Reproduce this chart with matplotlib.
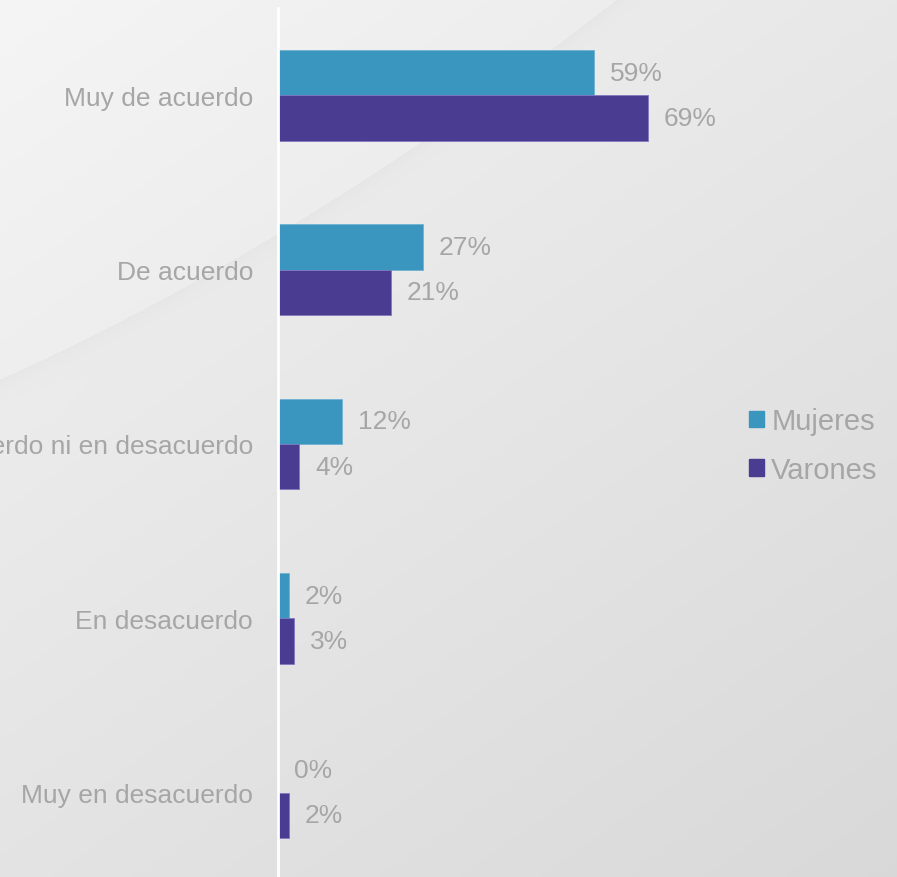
import numpy as np
import matplotlib
matplotlib.use("Agg")
import matplotlib.pyplot as plt
from matplotlib.patches import Patch

categories = ["Muy de acuerdo", "De acuerdo", "Ni de acuerdo ni en desacuerdo",
              "En desacuerdo", "Muy en desacuerdo"]
mujeres = [59, 27, 12, 2, 0]
varones = [69, 21, 4, 3, 2]
series_names = ["Mujeres", "Varones"]

C_MUJ = "#3A96BE"
C_VAR = "#4A3C91"
TXT = "#A6A6A6"

plt.rcParams["font.family"] = ["Liberation Sans", "DejaVu Sans"]

W, H = 897, 878
fig = plt.figure(figsize=(W / 100, H / 100), dpi=100)

# decorative background: soft grey gradient with a faint swoosh shadow
bg = fig.add_axes([0, 0, 1, 1], zorder=-1)
yy, xx = np.mgrid[0:H, 0:W].astype(float)
t = np.clip(0.5 * xx / W + 0.7 * yy / H, 0, 1.2)
base = 243 - 22 * t
curve = 380 - 0.45 * xx - 0.00027 * xx ** 2
dist = yy - curve
base = base + np.where(dist < 0, 2, 0)
base = base - 5 * np.exp(-np.clip(dist, 0, None) / 14.0) * (dist >= 0) * (xx < 700)
img = np.clip(base, 0, 255) / 255.0
bg.imshow(np.dstack([img, img, img]), extent=[0, W, H, 0], aspect="auto")
bg.axis("off")

# main axes: left edge at x=278px, categories spaced ~174px
left = 278 / W
ax = fig.add_axes([left, (H - 881) / H, (278 + 5.36 * 80) / W - left, 872 / H])
ax.patch.set_alpha(0)

y = np.arange(len(categories))
h = 0.26
ax.barh(y - h / 2, mujeres, height=h, color=C_MUJ, edgecolor="#6FB3D2",
        linewidth=0.6, label=series_names[0])
ax.barh(y + h / 2, varones, height=h, color=C_VAR, edgecolor="#7F78C0",
        linewidth=0.6, label=series_names[1])

for i in range(len(categories)):
    ax.annotate(f"{mujeres[i]}%", (mujeres[i], y[i] - h / 2), xytext=(16, 0),
                textcoords="offset pixels", ha="left", va="center",
                color=TXT, fontsize=19)
    ax.annotate(f"{varones[i]}%", (varones[i], y[i] + h / 2), xytext=(16, 0),
                textcoords="offset pixels", ha="left", va="center",
                color=TXT, fontsize=19)

ax.set_xlim(0, 80)
ax.set_ylim(len(categories) - 0.5, -0.5)
ax.set_yticks(y)
ax.set_yticklabels(categories, color=TXT, fontsize=19)
ax.tick_params(axis="y", length=0, pad=18)
ax.set_xticks([])
for s in ["top", "right", "bottom"]:
    ax.spines[s].set_visible(False)
ax.spines["left"].set_color("white")
ax.spines["left"].set_linewidth(2)

handles = [Patch(color=C_MUJ), Patch(color=C_VAR)]
fig.legend(handles, series_names, loc="upper left",
           bbox_to_anchor=(723 / W, 1 - 382 / H), frameon=False,
           fontsize=21, labelcolor=TXT, handlelength=0.5, handleheight=0.5,
           handletextpad=0.25, labelspacing=0.7)

fig.savefig("out.png", dpi=100)
